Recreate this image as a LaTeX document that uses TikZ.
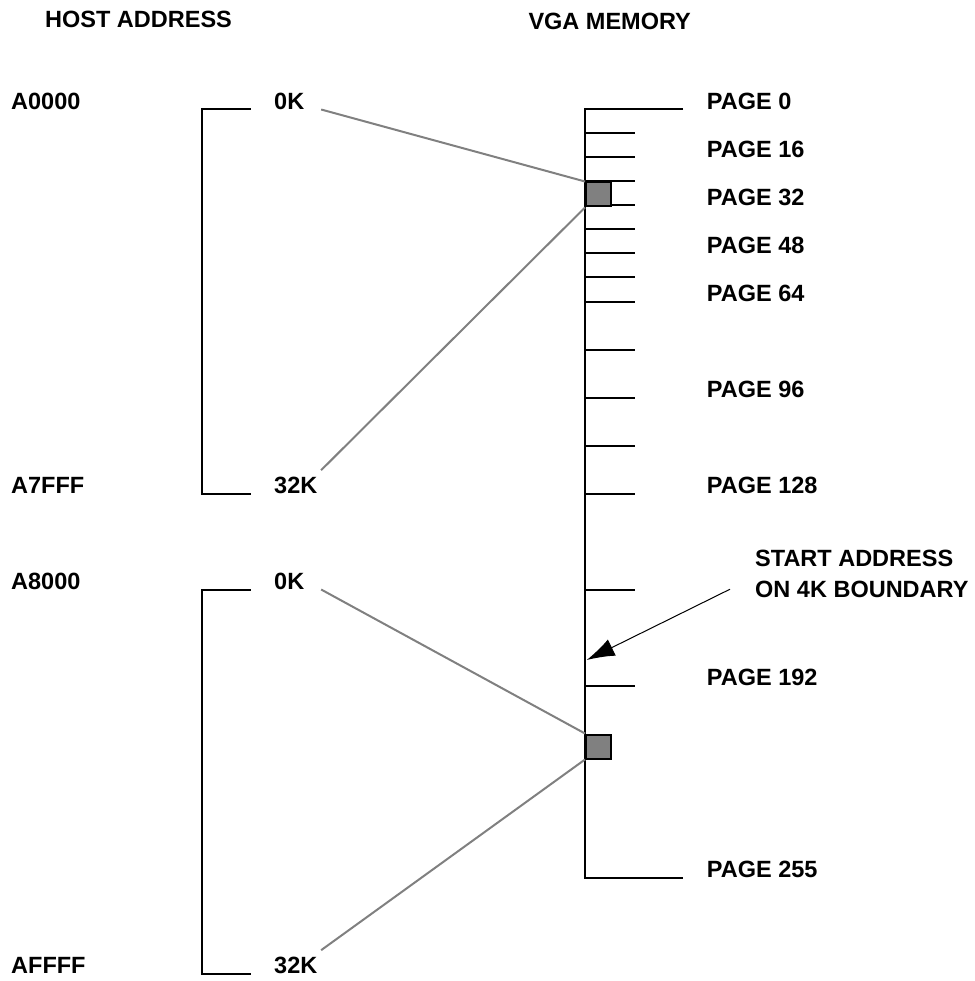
\documentclass[tikz,border=0pt]{standalone}
\usepackage{fontspec}
\setmainfont{Liberation Sans}
\usetikzlibrary{arrows.meta}

\begin{document}
\begin{tikzpicture}[x=1pt,y=-1pt,>=Latex,
  font=\fontsize{23.5}{28}\selectfont\bfseries,
  lbl/.style={anchor=base west,inner sep=0pt},
  brk/.style={line width=2pt},
  link/.style={gray,line width=2pt},
  blk/.style={draw,fill=gray,line width=2pt,anchor=north west,inner sep=0pt,
    minimum width=25pt,minimum height=24pt}]
\useasboundingbox (0,0) rectangle (974,981);
% headings
\node[lbl] (hhost) at (45,27.3) {HOST ADDRESS};
\node[lbl] (hvga) at (528.3,29.3) {VGA MEMORY};
% host address ranges
\node[lbl] (a0000) at (11,109.5) {A0000};
\node[lbl] (a7fff) at (11,493.5) {A7FFF};
\node[lbl] (a8000) at (11,589.5) {A8000};
\node[lbl] (affff) at (11,973.5) {AFFFF};
\node[lbl] (k0a) at (274,109.5) {0K};
\node[lbl] (k32a) at (274,493.5) {32K};
\node[lbl] (k0b) at (274,589.5) {0K};
\node[lbl] (k32b) at (274,973.5) {32K};
\draw[brk] (250.7,109.5) -| (201.5,493.5) -- (250.7,493.5);
\draw[brk] (250.7,589.5) -| (201.5,973.5) -- (250.7,973.5);
% vga memory, 3 units per page
\draw[brk] (683,109.5) -- (585,109.5) -- (585,877.5) -- (683,877.5);
\foreach \p in {8,16,24,32,40,48,56,64,80,96,112,128,160,192}
  \draw[brk] (585,109.5+3*\p) -- (635,109.5+3*\p);
\foreach \p in {0,16,32,48,64,96,128,192}
  \node[lbl] (pg\p) at (706.7,109.5+3*\p) {PAGE \p};
\node[lbl] (pg255) at (706.7,877.5) {PAGE 255};
\node[blk] (blkA) at (585,181.5) {};
\node[blk] (blkB) at (585,733.5) {};
% windows
\draw[link] ([xshift=16.7pt]k0a.base east) -- (blkA.north west);
\draw[link] ([shift={(3.6,-6.7)}]k32a.north east) -- (blkA.south west);
\draw[link] ([xshift=16.7pt]k0b.base east) -- (blkB.north west);
\draw[link] ([shift={(3.6,-6.7)}]k32b.north east) -- (blkB.south west);
% start address note
\node[lbl] (note1) at (755,566) {START ADDRESS};
\node[lbl] (note2) at (755,597.3) {ON 4K BOUNDARY};
\coordinate (ptr) at (586.7,660);
\draw[->,>={Latex[length=28pt,width=18pt]},line width=1pt] ([xshift=-25pt]note2.west) -- (ptr);
\end{tikzpicture}
\end{document}
